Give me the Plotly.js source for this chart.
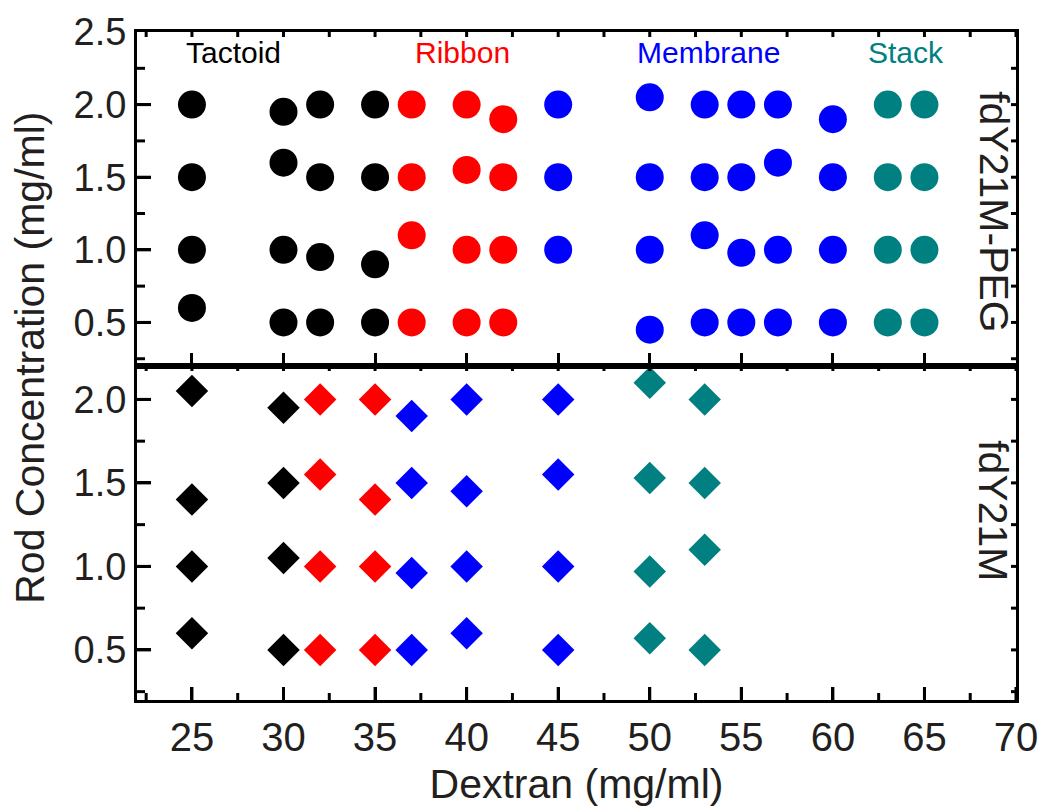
<!DOCTYPE html>
<html>
<head>
<meta charset="utf-8">
<script src="https://cdn.plot.ly/plotly-3.0.1.min.js"></script>
<style>html,body{margin:0;padding:0;background:#fff;}#chart{width:1047px;height:807px;}</style>
</head>
<body>
<div id="chart"></div>
<script>
// ---- Data: fdY21M-PEG (top panel, circles) ----
const pegTactoidX = [25, 25, 25, 25, 30, 30, 30, 30, 32, 32, 32, 32, 35, 35, 35, 35];
const pegTactoidY = [2.0, 1.5, 1.0, 0.6, 1.95, 1.6, 1.0, 0.5, 2.0, 1.5, 0.95, 0.5, 2.0, 1.5, 0.9, 0.5];
const pegRibbonX = [37, 37, 37, 37, 40, 40, 40, 40, 42, 42, 42, 42];
const pegRibbonY = [2.0, 1.5, 1.1, 0.5, 2.0, 1.55, 1.0, 0.5, 1.9, 1.5, 1.0, 0.5];
const pegMembraneX = [45, 45, 45, 50, 50, 50, 50, 53, 53, 53, 53, 55, 55, 55, 55, 57, 57, 57, 57, 60, 60, 60, 60];
const pegMembraneY = [2.0, 1.5, 1.0, 2.05, 1.5, 1.0, 0.45, 2.0, 1.5, 1.1, 0.5, 2.0, 1.5, 0.98, 0.5, 2.0, 1.6, 1.0, 0.5, 1.9, 1.5, 1.0, 0.5];
const pegStackX = [63, 63, 63, 63, 65, 65, 65, 65];
const pegStackY = [2.0, 1.5, 1.0, 0.5, 2.0, 1.5, 1.0, 0.5];

// ---- Data: fdY21M (bottom panel, diamonds) ----
const tactoidX = [25, 25, 25, 25, 30, 30, 30, 30];
const tactoidY = [2.05, 1.4, 1.0, 0.6, 1.95, 1.5, 1.05, 0.5];
const ribbonX = [32, 32, 32, 32, 35, 35, 35, 35];
const ribbonY = [2.0, 1.55, 1.0, 0.5, 2.0, 1.4, 1.0, 0.5];
const membraneX = [37, 37, 37, 37, 40, 40, 40, 40, 45, 45, 45, 45];
const membraneY = [1.9, 1.5, 0.96, 0.5, 2.0, 1.45, 1.0, 0.6, 2.0, 1.55, 1.0, 0.5];
const stackX = [50, 50, 50, 50, 53, 53, 53, 53];
const stackY = [2.1, 1.53, 0.97, 0.57, 2.0, 1.5, 1.1, 0.5];

// ---- Tick positions (axis values) ----
const xMajorTicks = [25, 30, 35, 40, 45, 50, 55, 60, 65, 70];
const xMinorTicks = [22.5, 27.5, 32.5, 37.5, 42.5, 47.5, 52.5, 57.5, 62.5, 67.5];
const yBottomMajor = [0.5, 1.0, 1.5, 2.0];
const yBottomMinor = [0.25, 0.75, 1.25, 1.75];
const yTopMajor = [0.5, 1.0, 1.5, 2.0];
const yTopMinor = [0.25, 0.75, 1.25, 1.75, 2.25];

// ---- Labels ----
const phaseLabels = ["Tactoid", "Ribbon", "Membrane", "Stack"];
const panelLabels = ["fdY21M-PEG", "fdY21M"];
const xTitle = "Dextran (mg/ml)";
const yTitle = "Rod Concentration (mg/ml)";

const colors = {Tactoid: "#000000", Ribbon: "#ff0000", Membrane: "#0000ff", Stack: "#008080"};
const FONT = "Liberation Sans, Arial, sans-serif";
const TXT = "#231f20";

function tr(x, y, name, symbol, size, xa, ya) {
  return {x: x, y: y, name: name, type: "scatter", mode: "markers", xaxis: xa, yaxis: ya,
    marker: {color: colors[name], symbol: symbol, size: size, line: {width: 0}}, hoverinfo: "x+y"};
}

const data = [
  tr(pegTactoidX, pegTactoidY, "Tactoid", "circle", 28, "x2", "y2"),
  tr(pegRibbonX, pegRibbonY, "Ribbon", "circle", 28, "x2", "y2"),
  tr(pegMembraneX, pegMembraneY, "Membrane", "circle", 28, "x2", "y2"),
  tr(pegStackX, pegStackY, "Stack", "circle", 28, "x2", "y2"),
  tr(tactoidX, tactoidY, "Tactoid", "diamond", 25, "x", "y"),
  tr(ribbonX, ribbonY, "Ribbon", "diamond", 25, "x", "y"),
  tr(membraneX, membraneY, "Membrane", "diamond", 25, "x", "y"),
  tr(stackX, stackY, "Stack", "diamond", 25, "x", "y")
];

// ---- Tick marks drawn as shapes (lengths in px converted to domain fractions) ----
const W = 1047, H = 807, ML = 137, MR = 31, MT = 32, MB = 107;
const PW = W - ML - MR;            // plot width in px
const PH = (H - MT - MB) / 2;      // each panel height in px
const tickLine = {color: "#000", width: 3};
const shapes = [];
function xTick(v, xref, yref, len, fromTop) {
  const f = len / PH;
  shapes.push({type: "line", xref: xref, yref: yref + " domain", x0: v, x1: v,
    y0: fromTop ? 1 : 0, y1: fromTop ? 1 - f : f, line: tickLine, layer: "above"});
}
function yTick(v, xref, yref, len, fromRight) {
  const f = len / PW;
  shapes.push({type: "line", xref: xref + " domain", yref: yref, y0: v, y1: v,
    x0: fromRight ? 1 : 0, x1: fromRight ? 1 - f : f, line: tickLine, layer: "above"});
}
xMajorTicks.forEach(v => { xTick(v, "x", "y", 13, false); xTick(v, "x", "y", 5, true); xTick(v, "x2", "y2", 5, true); });
xMinorTicks.forEach(v => { xTick(v, "x", "y", 7, false); xTick(v, "x", "y", 5, true); xTick(v, "x2", "y2", 5, true); });
yBottomMajor.forEach(v => { yTick(v, "x", "y", 14, false); yTick(v, "x", "y", 5, true); });
yBottomMinor.forEach(v => { yTick(v, "x", "y", 8, false); yTick(v, "x", "y", 5, true); });
yTopMajor.forEach(v => { yTick(v, "x2", "y2", 14, false); yTick(v, "x2", "y2", 5, true); });
yTopMinor.forEach(v => { yTick(v, "x2", "y2", 8, false); yTick(v, "x2", "y2", 5, true); });

const axCommon = {
  showgrid: false, zeroline: false, showline: true, linecolor: "#000", linewidth: 3,
  mirror: true, ticks: "inside", tickwidth: 3, tickcolor: "#000",
  tickmode: "linear", automargin: false, tick0: 0
};

const layout = {
  width: W, height: H,
  margin: {l: ML, r: MR, t: MT, b: MB, pad: 0},
  paper_bgcolor: "#fff", plot_bgcolor: "#fff",
  showlegend: false,
  font: {family: FONT, color: TXT},
  xaxis: Object.assign({}, axCommon, {
    domain: [0, 1], range: [22, 70], anchor: "y", dtick: 5, ticklen: 13,
    tickfont: {family: FONT, size: 40, color: TXT},
    title: {text: xTitle, font: {family: FONT, size: 41, color: TXT}, standoff: 12}
  }),
  xaxis2: Object.assign({}, axCommon, {
    domain: [0, 1], range: [22, 70], anchor: "y2", dtick: 5, ticklen: 13,
    showticklabels: false
  }),
  yaxis: Object.assign({}, axCommon, {
    domain: [0, 0.5], range: [0.2, 2.2], anchor: "x", dtick: 0.5, ticklen: 14,
    tickformat: ".1f", tickfont: {family: FONT, size: 38, color: TXT}
  }),
  yaxis2: Object.assign({}, axCommon, {
    domain: [0.5, 1], range: [0.2, 2.5], anchor: "x2", dtick: 0.5, ticklen: 14,
    tickformat: ".1f", tickfont: {family: FONT, size: 38, color: TXT}
  }),
  shapes: shapes,
  annotations: [
    {text: phaseLabels[0], xref: "paper", yref: "paper", x: 0.110, y: 0.970, showarrow: false,
     xanchor: "center", yanchor: "middle", font: {family: FONT, size: 30, color: colors.Tactoid}},
    {text: phaseLabels[1], xref: "paper", yref: "paper", x: 0.370, y: 0.970, showarrow: false,
     xanchor: "center", yanchor: "middle", font: {family: FONT, size: 30, color: colors.Ribbon}},
    {text: phaseLabels[2], xref: "paper", yref: "paper", x: 0.650, y: 0.970, showarrow: false,
     xanchor: "center", yanchor: "middle", font: {family: FONT, size: 30, color: colors.Membrane}},
    {text: phaseLabels[3], xref: "paper", yref: "paper", x: 0.875, y: 0.970, showarrow: false,
     xanchor: "center", yanchor: "middle", font: {family: FONT, size: 30, color: colors.Stack}},
    {text: panelLabels[0], xref: "paper", yref: "paper", x: 0.974, y: 0.730, showarrow: false,
     textangle: 90, xanchor: "center", yanchor: "middle", font: {family: FONT, size: 41, color: TXT}},
    {text: panelLabels[1], xref: "paper", yref: "paper", x: 0.974, y: 0.284, showarrow: false,
     textangle: 90, xanchor: "center", yanchor: "middle", font: {family: FONT, size: 41, color: TXT}},
    {text: yTitle, xref: "paper", yref: "paper", x: -0.122, y: 0.512, showarrow: false,
     textangle: -90, xanchor: "center", yanchor: "middle", font: {family: FONT, size: 41, color: TXT}}
  ]
};

Plotly.newPlot("chart", data, layout, {displayModeBar: false, staticPlot: true});
</script>
</body>
</html>
